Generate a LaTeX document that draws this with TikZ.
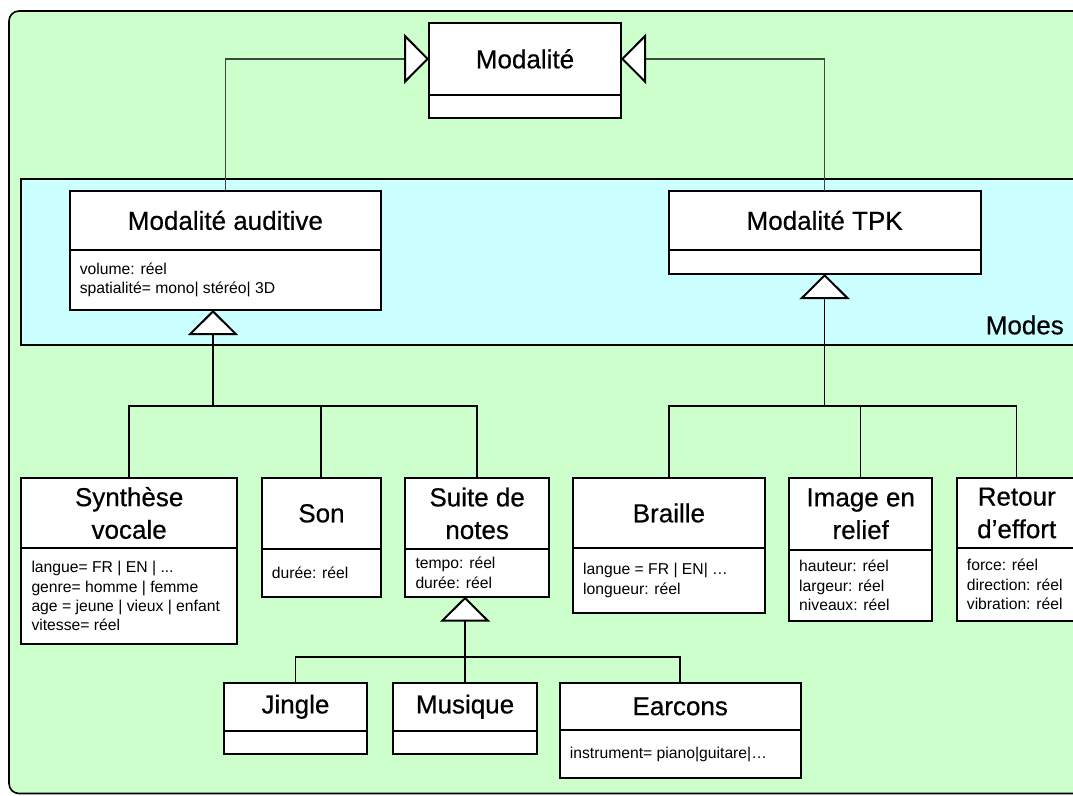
\documentclass[tikz,border=0pt]{standalone}
\usepackage{fontspec}
\setmainfont{Liberation Sans}
\newfontfamily\titlefont{Liberation Sans}[FakeBold=0.5]
\usetikzlibrary{arrows.meta}
\definecolor{bggreen}{HTML}{CCFFCC}
\definecolor{bgcyan}{HTML}{CCFFFF}
\definecolor{topgray}{HTML}{3C4A3C}
\tikzset{
  classbox/.style={draw=black, fill=white, line width=2pt, inner sep=0pt, outer sep=0pt},
  divline/.style={draw=black, line width=2pt},
  titletext/.style={font=\titlefont\fontsize{26}{32.6}\selectfont, align=center, inner sep=0pt},
  attrtext/.style={font=\fontsize{15.7}{19.3}\selectfont, align=left, inner sep=0pt, anchor=west},
  gen/.style={-{Triangle[length=25pt, width=50pt, color=black, fill=white, line width=2pt]}},
  topline/.style={draw=topgray, line width=1.4pt, gen},
  busthick/.style={draw=black, line width=2pt},
  busthin/.style={draw=black, line width=1.5pt},
}
% name, left, top, right, divider, bottom, title, attributes
\newcommand\umlclass[8]{%
  \node[classbox, anchor=north west, minimum width={(#4-#2)*1pt}, minimum height={(#6-#3)*1pt}] (#1) at (#2,#3) {};
  \draw[divline] (#2,#5) -- (#4,#5);
  \node[titletext] (#1-t) at ({(#2+#4)/2},{(#3+#5)/2}) {#7};
  \node[attrtext] (#1-a) at ({#2+10},{(#5+#6)/2}) {#8};
}
\begin{document}
\begin{tikzpicture}[x=1pt, y=-1pt]
\clip (0,0) rectangle (1073,795);
\fill[white] (0,0) rectangle (1073,795);
% outer package
\draw[fill=bggreen, draw=black, line width=1.6pt, rounded corners=10pt] (9,11) rectangle (1100,793.5);
% Modes band
\draw[fill=bgcyan, draw=black, line width=2pt] (21,179) rectangle (1100,345);
\node[font=\titlefont\fontsize{26}{30}\selectfont, anchor=east, inner sep=0pt] (modes) at (1064,325) {Modes};

\umlclass{mod}{429}{23}{621}{94.7}{118.3}{Modalité}{}
\umlclass{aud}{69.6}{190.7}{381.2}{250}{310}{Modalité auditive}{volume: réel\\spatialité= mono| stéréo| 3D}
\umlclass{tpk}{668.5}{190.7}{980.8}{250}{274}{Modalité TPK}{}

\umlclass{synth}{21.3}{477.7}{237}{548.3}{644.3}{Synthèse\\vocale}{langue= FR | EN | ...\\genre= homme | femme\\age = jeune | vieux | enfant\\vitesse= réel}
\umlclass{son}{261.7}{477.7}{381.2}{549}{596.7}{Son}{durée: réel}
\umlclass{suite}{405.3}{477.7}{549}{549}{596.7}{Suite de\\notes}{tempo: réel\\durée: réel}
\umlclass{braille}{573}{477.7}{764.8}{548.3}{612.7}{Braille}{langue = FR | EN| …\\longueur: réel}
\umlclass{image}{789}{477.7}{932.4}{550}{621}{Image en\\relief}{hauteur: réel\\largeur: réel\\niveaux: réel}
\umlclass{retour}{956.7}{477.7}{1076.7}{548.3}{620.7}{Retour\\d’effort}{force: réel\\direction: réel\\vibration: réel}

\umlclass{jingle}{223.7}{682.7}{367.2}{730.7}{754}{Jingle}{}
\umlclass{musique}{393.3}{682.7}{536.8}{730.7}{754}{Musique}{}
\umlclass{earcons}{559.7}{682.7}{800.7}{730}{778.3}{Earcons}{instrument= piano|guitare|…}

% generalisation to Modalité
\draw[topline] (aud.north) |- (mod.west |- mod-t.center);
\draw[topline] (tpk.north) |- (mod.east |- mod-t.center);

% auditive children
\coordinate (audbus) at (213,406);
\draw[busthick] (synth.north) |- (suite.north |- audbus) -- (suite.north);
\draw[busthick] (son.north) -- (son.north |- audbus);
\draw[busthick, gen] (audbus) -- (aud.south -| audbus);

% TPK children
\coordinate (tpkbus) at (824.65,406);
\draw[busthin] (braille.north) |- (retour.north |- tpkbus) -- (retour.north);
\draw[busthin] (image.north) -- (image.north |- tpkbus);
\draw[busthin, gen] (tpkbus) -- (tpk.south);

% suite de notes children
\coordinate (suitebus) at (465.05,657);
\draw[busthin] (jingle.north) |- (earcons.north |- suitebus) -- (earcons.north);
\draw[busthin, gen] (musique.north) -- (musique.north |- suite.south);
\end{tikzpicture}
\end{document}
